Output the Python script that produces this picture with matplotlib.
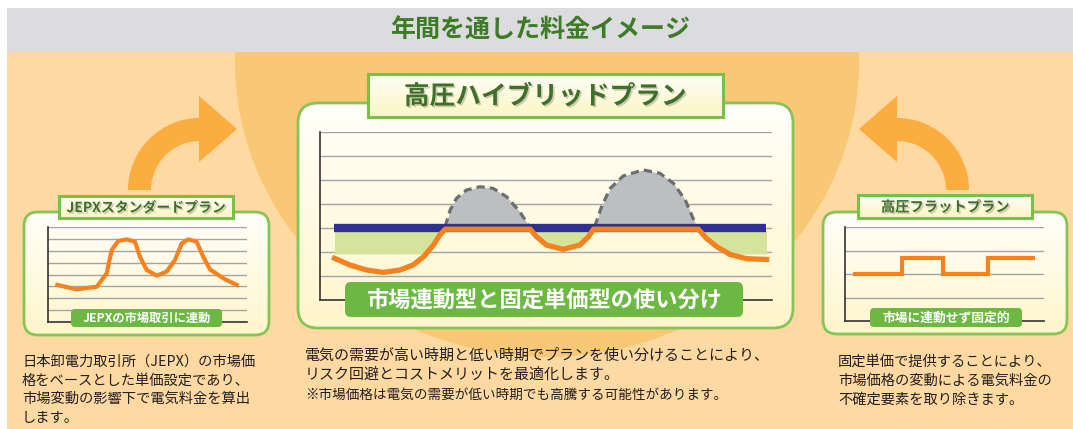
import numpy as np
import matplotlib
matplotlib.use('Agg')
import matplotlib.pyplot as plt
from matplotlib.patches import FancyBboxPatch, Rectangle, Ellipse, Wedge, Polygon
from matplotlib.colors import LinearSegmentedColormap
import matplotlib.patheffects as pe

plt.rcParams['font.family'] = ['Noto Sans CJK JP', 'DejaVu Sans']

# ---- data ----
# JEPX standard plan: market-linked price over the year
jepx_x = [4.7, 14.4, 24.5, 29.5, 32.0, 35.3, 39.5, 43.7, 46.2, 49.6, 54.6, 59.6,
          63.8, 67.2, 70.5, 74.7, 78.0, 81.4, 88.1, 94.8]
jepx_y = [3.12, 2.75, 2.97, 4.1, 6.06, 6.82, 6.96, 6.76, 5.5, 4.38, 3.9, 4.24,
          5.22, 6.62, 6.96, 6.76, 5.5, 4.43, 3.68, 3.12]

# hybrid plan: price actually paid (orange)
hyb_x = [3.2, 6.6, 10.3, 14.0, 17.7, 20.6, 22.9, 25.1, 26.5, 27.7, 46.5, 47.9,
         50.1, 53.8, 57.5, 59.4, 60.5, 83.7, 85.5, 87.8, 90.7, 94.4, 98.8]
hyb_y = [1.74, 1.46, 1.25, 1.15, 1.25, 1.46, 1.8, 2.29, 2.71, 2.95, 2.95, 2.64,
         2.29, 2.11, 2.29, 2.64, 2.95, 2.95, 2.57, 2.22, 1.90, 1.72, 1.69]
fixed_level = 3.0
fixed_x = [3.2, 98.7]
green_floor = 1.92

# market price spikes above the fixed price (grey, dashed)
peak1_x = [27.7, 28.8, 30.2, 32.4, 35.4, 38.3, 41.3, 44.2, 46.1]
peak1_y = [3.07, 3.75, 4.24, 4.58, 4.72, 4.65, 4.3, 3.68, 3.12]
peak2_x = [60.8, 62.3, 64.2, 67.1, 71.5, 75.2, 78.2, 80.8, 83.0]
peak2_y = [3.07, 3.89, 4.65, 5.17, 5.42, 5.28, 4.86, 4.17, 3.2]

# flat plan: fixed unit price in steps
flat_edges = [4.0, 28.5, 49.4, 72.0, 95.5]
flat_levels = [2.0, 2.7, 2.0, 2.7]

header = '年間を通した料金イメージ'
titles = ['JEPXスタンダードプラン', '高圧ハイブリッドプラン', '高圧フラットプラン']
labels = ['JEPXの市場取引に連動', '市場連動型と固定単価型の使い分け', '市場に連動せず固定的']
left_text = ['日本卸電力取引所（JEPX）の市場価', '格をベースとした単価設定であり、',
             '市場変動の影響下で電気料金を算出', 'します。']
mid_text = ['電気の需要が高い時期と低い時期でプランを使い分けることにより、',
            'リスク回避とコストメリットを最適化します。']
mid_note = '※市場価格は電気の需要が低い時期でも高騰する可能性があります。'
right_text = ['固定単価で提供することにより、', '市場価格の変動による電気料金の',
              '不確定要素を取り除きます。']

ORANGE = '#F5821F'
GREEN = '#6DB843'
DKGREEN = '#3E7B28'
W, H = 1073, 429

fig = plt.figure(figsize=(W / 100, H / 100), dpi=100)
fig.patch.set_facecolor('white')


def px_axes(x0, y0, x1, y1):
    return fig.add_axes([x0 / W, 1 - y1 / H, (x1 - x0) / W, (y1 - y0) / H])


def grad(ax, patch, c1, c2, z):
    ax.add_patch(patch)
    x0, y0 = patch.get_x(), patch.get_y()
    x1, y1 = x0 + patch.get_width(), y0 + patch.get_height()
    cmap = LinearSegmentedColormap.from_list('g', [c1, c2])
    im = ax.imshow(np.linspace(0, 1, 64).reshape(-1, 1), cmap=cmap,
                   extent=(x0, x1, y1, y0), aspect='auto', zorder=z,
                   interpolation='bilinear')
    im.set_clip_path(patch)


# ---- background layer ----
bg = px_axes(0, 0, W, H)
base = Rectangle((7, 8), W - 7, H - 8, fc='#FED9A2', ec='none', zorder=0)
bg.add_patch(base)
circle = Ellipse((547, 62), 624, 590, fc='#F8C877', ec='none', zorder=1)
bg.add_patch(circle)
circle.set_clip_path(base)
bg.add_patch(Rectangle((7, 8), W - 7, 44, fc='#DCDCDE', ec='none', zorder=2))

arrow_c = '#FBAD3F'
bg.add_patch(Wedge((200, 190), 72, 180, 270, width=23, fc=arrow_c, ec='none', zorder=3))
bg.add_patch(Polygon([(199, 96), (237, 129), (199, 162)], fc=arrow_c, ec='none', zorder=3))
bg.add_patch(Wedge((897, 190), 72, 270, 360, width=23, fc=arrow_c, ec='none', zorder=3))
bg.add_patch(Polygon([(897, 96), (859, 129), (897, 162)], fc=arrow_c, ec='none', zorder=3))

for (x0, y0, x1, y1, r) in [(24, 212, 269, 335, 14), (298, 103, 793, 328, 20),
                            (823, 212, 1067, 334, 14)]:
    p = FancyBboxPatch((x0, y0), x1 - x0, y1 - y0,
                       boxstyle=f'round,pad=0,rounding_size={r}',
                       fc='none', ec='#86C456', lw=2, zorder=5)
    bg.add_patch(p)
    clip = FancyBboxPatch((x0, y0), x1 - x0, y1 - y0,
                          boxstyle=f'round,pad=0,rounding_size={r}',
                          fc='none', ec='none', zorder=4)
    bg.add_patch(clip)
    cmap = LinearSegmentedColormap.from_list('p', ['#FFFFFA', '#FFF6CC'])
    im = bg.imshow(np.linspace(0, 1, 64).reshape(-1, 1), cmap=cmap,
                   extent=(x0, x1, y1, y0), aspect='auto', zorder=4)
    im.set_clip_path(clip)

bg.set_xlim(0, W)
bg.set_ylim(H, 0)
bg.axis('off')


def style_chart(ax, ymax):
    ax.set_xlim(0, 100)
    ax.set_ylim(0, ymax)
    ax.set_yticks(range(1, ymax + 1))
    ax.set_xticks([])
    ax.tick_params(left=False, labelleft=False)
    ax.grid(axis='y', color='#A3A3AA', lw=1)
    ax.set_axisbelow(True)
    ax.patch.set_alpha(0)
    for s in ['top', 'right']:
        ax.spines[s].set_visible(False)
    for s in ['left', 'bottom']:
        ax.spines[s].set_color('#333333')
        ax.spines[s].set_linewidth(1.2)


# ---- JEPX chart ----
ax1 = px_axes(48, 227, 247, 322)
style_chart(ax1, 8)
ax1.plot(jepx_x, jepx_y, color=ORANGE, lw=3, solid_joinstyle='round')

# ---- hybrid chart ----
ax2 = px_axes(320, 132, 772, 300)
style_chart(ax2, 7)
for px_, py_ in [(peak1_x, peak1_y), (peak2_x, peak2_y)]:
    ax2.fill_between(px_, fixed_level, py_, color='#BDBEC0', lw=0, zorder=2)
    ax2.plot(px_, py_, color='#6D6E71', lw=2.3, ls=(0, (2.6, 1.6)), zorder=3)
hx = np.array(hyb_x)
hy = np.array(hyb_y)
ax2.fill_between(hx, np.maximum(hy, green_floor), fixed_level, color='#D6E39A',
                 lw=0, zorder=2)
ax2.plot(fixed_x, [fixed_level, fixed_level], color='#2E3192', lw=6,
         solid_capstyle='butt', zorder=4)
ax2.plot(hx, hy, color=ORANGE, lw=3.8, solid_joinstyle='round', zorder=5)

# ---- flat chart ----
ax3 = px_axes(845, 227, 1044, 321)
style_chart(ax3, 4)
ax3.stairs(flat_levels, flat_edges, baseline=None, color=ORANGE, lw=3)

# ---- overlay: titles, labels, text ----
ov = px_axes(0, 0, W, H)
ov.patch.set_alpha(0)
shadow = [pe.withSimplePatchShadow(offset=(1.2, -1.2), shadow_rgbFace='#7a7a60', alpha=0.35)]

ov.text(540, 30, header, ha='center', va='center', fontsize=18, weight='bold',
        color=DKGREEN)

title_boxes = [(59, 196, 233, 218, 10), (368, 74, 723, 117, 18.5), (858, 195, 1032, 218, 10.3)]
for (x0, y0, x1, y1, fs), t in zip(title_boxes, titles):
    r = Rectangle((x0, y0), x1 - x0, y1 - y0, fc='none', ec='none', zorder=1)
    grad(ov, r, '#FFFFF6', '#FBF5C6', 1)
    ov.add_patch(Rectangle((x0, y0), x1 - x0, y1 - y0, fc='none', ec='#79BF4A',
                           lw=2.2, zorder=2))
    ov.text((x0 + x1) / 2, (y0 + y1) / 2 + 1, t, ha='center', va='center',
            fontsize=fs, weight='bold', color='#3F6F2A', zorder=3,
            path_effects=shadow)

label_boxes = [(71, 309, 222, 327, 8.8, 4), (345, 282, 743, 317, 16, 6),
               (870, 308, 1022, 327, 9.2, 4)]
for (x0, y0, x1, y1, fs, rr), t in zip(label_boxes, labels):
    ov.add_patch(FancyBboxPatch((x0, y0), x1 - x0, y1 - y0,
                                boxstyle=f'round,pad=0,rounding_size={rr}',
                                fc=GREEN, ec='none', zorder=2))
    ov.text((x0 + x1) / 2, (y0 + y1) / 2 + 0.5, t, ha='center', va='center',
            fontsize=fs, weight='bold', color='white', zorder=3)

for i, line in enumerate(left_text):
    ov.text(22, 362 + i * 18.5, line, ha='left', va='center', fontsize=10.3,
            color='#231F20')
for i, line in enumerate(mid_text):
    ov.text(305, 356 + i * 19, line, ha='left', va='center', fontsize=10.8,
            color='#231F20')
ov.text(305, 395, mid_note, ha='left', va='center', fontsize=9.8, color='#231F20')
for i, line in enumerate(right_text):
    ov.text(838, 362 + i * 19, line, ha='left', va='center', fontsize=10.3,
            color='#231F20')

ov.set_xlim(0, W)
ov.set_ylim(H, 0)
ov.axis('off')

fig.savefig('out.png', dpi=100)
